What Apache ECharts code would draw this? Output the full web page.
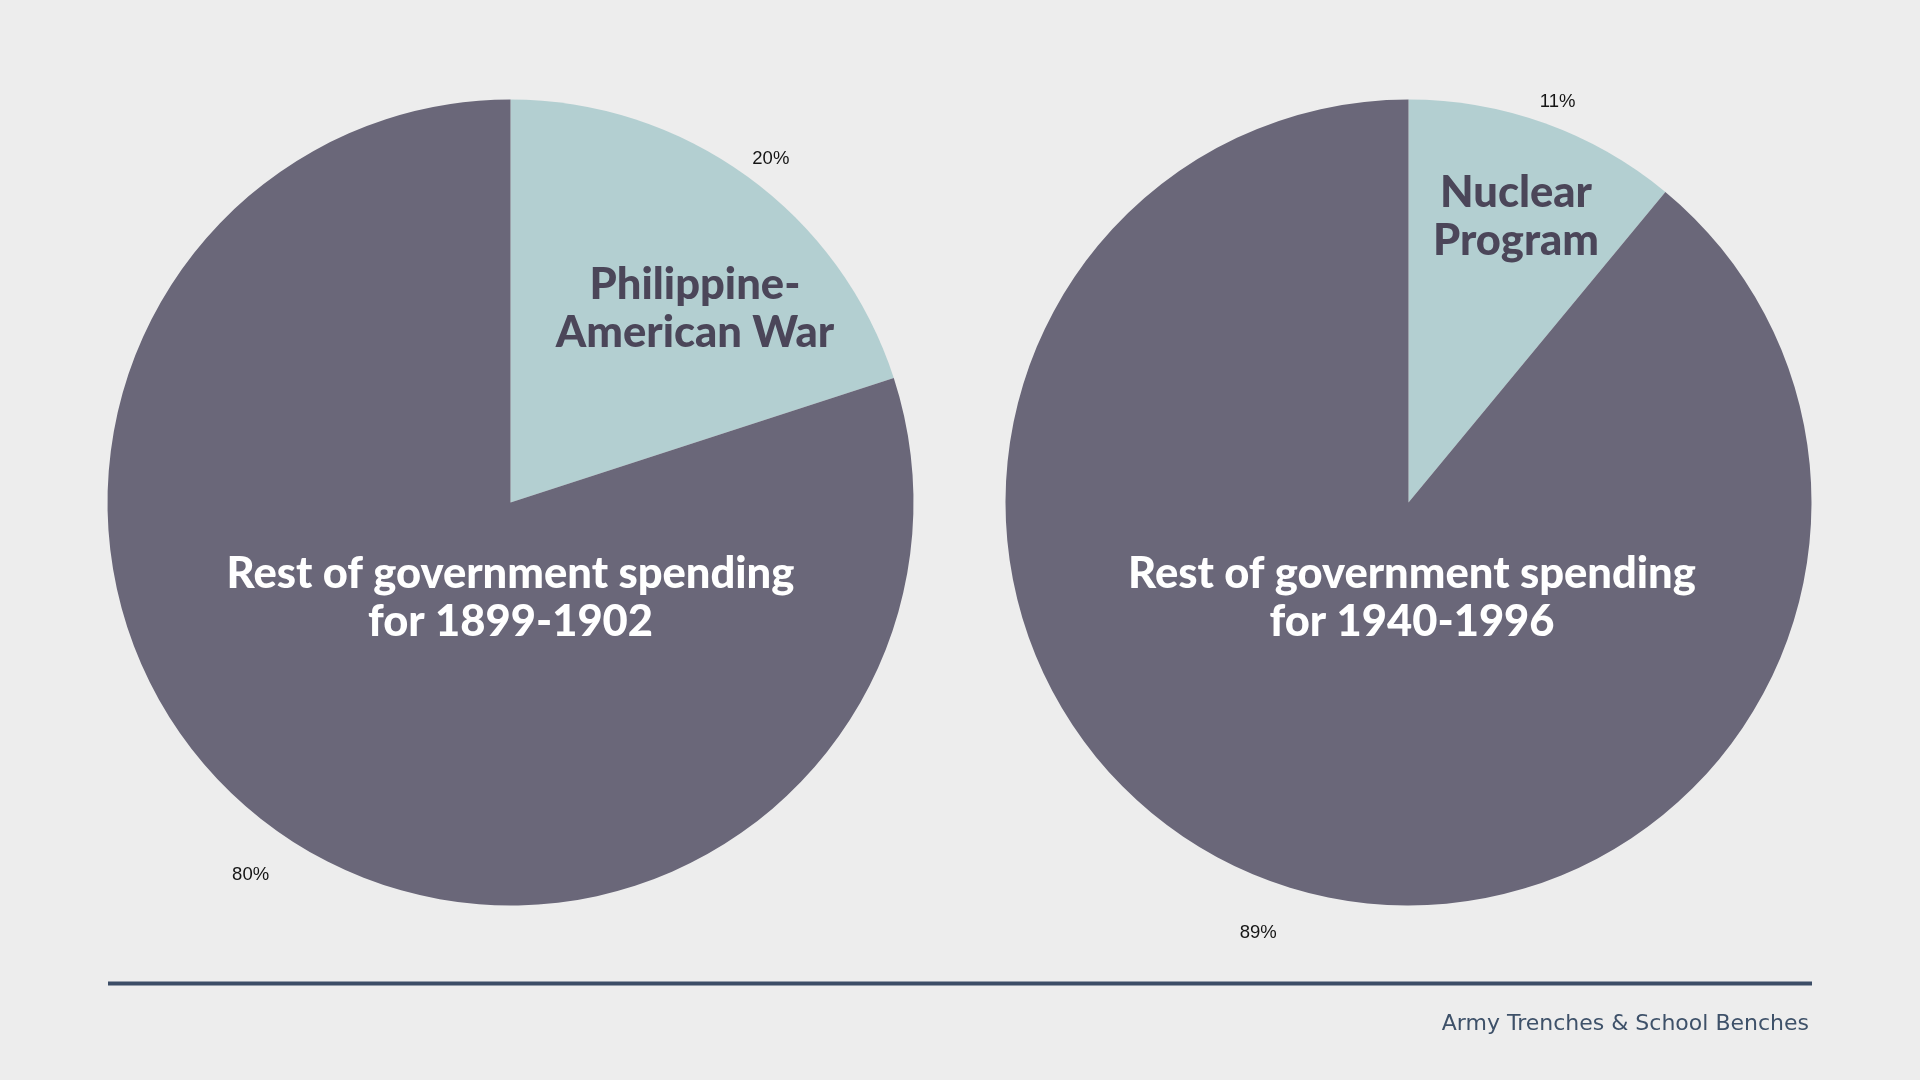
<!DOCTYPE html>
<html>
<head>
<meta charset="utf-8">
<script src="https://cdn.jsdelivr.net/npm/echarts@6/dist/echarts.min.js"></script>
<style>
  html, body { margin: 0; padding: 0; background: #ededed; }
  #chart { width: 1920px; height: 1080px; }
</style>
</head>
<body>
<div id="chart"></div>
<script>
// ---- data ----
const pie1Names = ['Philippine-American War', 'Rest of government spending for 1899-1902'];
const pie1Values = [20, 80];
const pie2Names = ['Nuclear Program', 'Rest of government spending for 1940-1996'];
const pie2Values = [11, 89];
const footerText = 'Army Trenches & School Benches';

// ---- styles ----
const COLOR_LIGHT = '#b3cfd1';
const COLOR_DARK = '#6a6779';
const LABEL_FONT = '"Liberation Sans", Arial, sans-serif';
const TITLE_FONT = 'Lato, "Noto Sans", sans-serif';

// label placement tweaks (outside percent labels)
const pie1LabelTweaks = [
  { length: 22, distance: -8 },
  { length: 57, distance: -29 }
];
const pie2LabelTweaks = [
  { length: 23, distance: -13 },
  { length: 54, distance: -23 }
];

function buildData(names, values, colors, tweaks) {
  return names.map((n, i) => ({
    name: n,
    value: values[i],
    itemStyle: { color: colors[i] },
    label: { distanceToLabelLine: tweaks[i].distance },
    labelLine: { show: false, length: tweaks[i].length, length2: 0 }
  }));
}

function pieSeries(center, names, values, tweaks) {
  return {
    type: 'pie',
    center: center,
    radius: 403,
    startAngle: 90,
    clockwise: true,
    avoidLabelOverlap: false,
    silent: true,
    animation: false,
    z: 2,
    label: {
      show: true,
      position: 'outside',
      formatter: '{c}%',
      fontFamily: LABEL_FONT,
      fontSize: 18.5,
      color: '#151515'
    },
    labelLine: { show: false },
    emphasis: { disabled: true },
    data: buildData(names, values, [COLOR_LIGHT, COLOR_DARK], tweaks)
  };
}

const chart = echarts.init(document.getElementById('chart'));

function titleText(x, y, text, color) {
  return {
    type: 'text',
    x: x, y: y,
    z: 100,
    style: {
      text: text,
      fill: color,
      fontFamily: TITLE_FONT,
      fontWeight: 900,
      fontSize: 43.5,
      textAlign: 'center',
      textVerticalAlign: 'middle',
      lineHeight: 48
    }
  };
}

chart.setOption({
  backgroundColor: '#ededed',
  series: [
    pieSeries([510.5, 502.5], pie1Names, pie1Values, pie1LabelTweaks),
    pieSeries([1408.5, 502.5], pie2Names, pie2Values, pie2LabelTweaks)
  ],
  graphic: {
    elements: [
      titleText(695, 309, 'Philippine-\nAmerican War', '#4b4659'),
      titleText(1516, 217, 'Nuclear\nProgram', '#4b4659'),
      titleText(510.5, 598, 'Rest of government spending\nfor 1899-1902', '#ffffff'),
      titleText(1412, 598, 'Rest of government spending\nfor 1940-1996', '#ffffff'),
      {
        type: 'line',
        z: 100,
        shape: { x1: 108, y1: 983.5, x2: 1812, y2: 983.5 },
        style: { stroke: '#3c4d66', lineWidth: 4 }
      },
      {
        type: 'text',
        z: 100,
        x: 1809, y: 1024,
        style: {
          text: footerText,
          fill: '#3e5169',
          fontFamily: '"DejaVu Sans", sans-serif',
          fontSize: 22,
          textAlign: 'right',
          textVerticalAlign: 'middle'
        }
      }
    ]
  }
});
</script>
</body>
</html>
